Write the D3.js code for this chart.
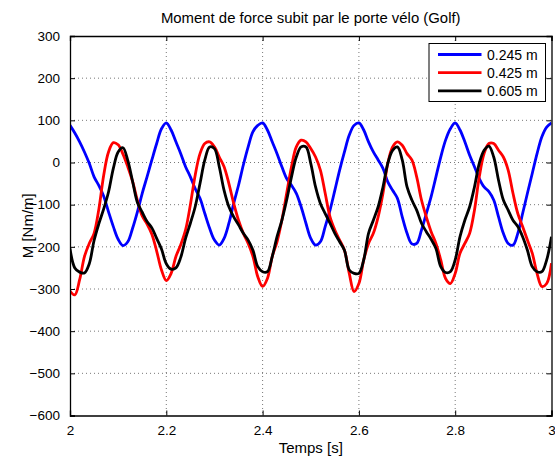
<!DOCTYPE html>
<html>
<head>
<meta charset="utf-8">
<script src="https://cdn.jsdelivr.net/npm/d3@7"></script>
<style>
  html, body { margin: 0; padding: 0; background: #fff; }
  svg { display: block; font-family: "Liberation Sans", Arial, sans-serif; }
</style>
</head>
<body>
<div id="chart"></div>
<script>
// sampled every 0.01 s from t = 2 s
var tStart = 2, tStep = 0.01;

var seriesNames = ["0.245 m", "0.425 m", "0.605 m"];
var seriesColors = ["#0000ff", "#ff0000", "#000000"];

var m245 = [
  88, 70, 49, 25, -2, -34, -55, -80, -117, -152, -182, -197, -188, -156, -117, -73, -34, 6, 45, 80,
  94, 77, 49, 21, -10, -34, -62, -85, -121, -156, -184, -196, -180, -144, -97, -54, -6, 37, 73, 88,
  94, 77, 49, 21, -10, -38, -54, -73, -105, -144, -180, -196, -188, -152, -113, -66, -18, 25, 65, 88,
  94, 77, 49, 25, 6, -14, -46, -66, -85, -129, -168, -193, -192, -160, -121, -81, -34, 13, 53, 80,
  94, 77, 49, 17, -10, -38, -58, -69, -89, -129, -168, -192, -196, -168, -121, -73, -26, 21, 61, 84,
  94
];
var m425 = [
  -305, -314, -278, -223, -192, -168, -110, -30, 25, 47, 42, 20, -10, -45, -90, -127, -146, -170, -210, -255,
  -280, -263, -223, -195, -160, -100, -30, 21, 45, 49, 37, 13, -10, -50, -97, -137, -168, -192, -223, -271,
  -294, -275, -223, -188, -137, -73, -10, 37, 53, 49, 33, 13, -18, -73, -129, -160, -184, -208, -263, -306,
  -287, -231, -192, -168, -129, -73, -2, 37, 49, 41, 21, 6, -34, -89, -129, -164, -192, -231, -275, -287,
  -263, -215, -192, -168, -113, -34, 21, 45, 45, 29, 13, -18, -73, -121, -152, -184, -215, -263, -294, -287,
  -239
];
var m605 = [
  -204, -250, -260, -262, -240, -185, -145, -110, -70, -14, 25, 35, 5, -45, -95, -118, -140, -155, -180, -205,
  -240, -253, -250, -225, -180, -144, -105, -50, 6, 37, 33, -10, -66, -105, -129, -148, -168, -184, -208, -247,
  -259, -259, -223, -176, -137, -89, -34, 13, 37, 37, -2, -58, -97, -121, -144, -168, -188, -208, -255, -263,
  -263, -231, -168, -137, -105, -58, -2, 29, 37, 6, -58, -89, -113, -144, -164, -182, -204, -247, -261, -259,
  -231, -176, -137, -105, -58, -2, 29, 39, 13, -42, -89, -113, -137, -152, -176, -208, -247, -259, -259, -231,
  -176
];

var xTicks = [2, 2.2, 2.4, 2.6, 2.8, 3];
var yTicks = [300, 200, 100, 0, -100, -200, -300, -400, -500, -600];

var W = 555, H = 458;
var margin = { left: 70, right: 3.5, top: 36, bottom: 42.5 };
var pw = W - margin.left - margin.right;
var ph = H - margin.top - margin.bottom;

var svg = d3.select("#chart").append("svg")
  .attr("width", W).attr("height", H);

var x = d3.scaleLinear().domain([2, 3]).range([0, pw]);
var y = d3.scaleLinear().domain([-600, 300]).range([ph, 0]);

var g = svg.append("g")
  .attr("transform", "translate(" + margin.left + "," + margin.top + ")");

g.append("rect").attr("width", pw).attr("height", ph).attr("fill", "#fff");

// dotted grid
g.append("g").selectAll("line").data(xTicks.slice(1, -1)).join("line")
  .attr("x1", d => x(d)).attr("x2", d => x(d))
  .attr("y1", 0).attr("y2", ph)
  .attr("stroke", "#555").attr("stroke-width", 0.8)
  .attr("stroke-dasharray", "1,3");
g.append("g").selectAll("line").data(yTicks.slice(1, -1)).join("line")
  .attr("y1", d => y(d)).attr("y2", d => y(d))
  .attr("x1", 0).attr("x2", pw)
  .attr("stroke", "#555").attr("stroke-width", 0.8)
  .attr("stroke-dasharray", "1,3");

g.append("clipPath").attr("id", "clip")
  .append("rect").attr("width", pw).attr("height", ph);

var series = [m245, m425, m605];
var line = d3.line()
  .x((d, i) => x(tStart + i * tStep))
  .y(d => y(d))
  .curve(d3.curveCatmullRom.alpha(0.5));

g.append("g").attr("clip-path", "url(#clip)")
  .selectAll("path").data(series).join("path")
  .attr("d", d => line(d))
  .attr("fill", "none")
  .attr("stroke", (d, i) => seriesColors[i])
  .attr("stroke-width", 2.8)
  .attr("stroke-linejoin", "round");

// axes, ticks inward on all four sides
var tickLen = 5;
var fmt = d3.format("");
g.append("g").attr("transform", "translate(0," + ph + ")")
  .call(d3.axisBottom(x).tickValues(xTicks).tickSize(-tickLen).tickPadding(10).tickFormat(fmt));
g.append("g")
  .call(d3.axisTop(x).tickValues(xTicks).tickSize(-tickLen).tickFormat(""));
g.append("g")
  .call(d3.axisLeft(y).tickValues(yTicks).tickSize(-tickLen).tickPadding(10)
    .tickFormat(d => d < 0 ? "\u2212" + Math.abs(d) : d));
g.append("g").attr("transform", "translate(" + pw + ",0)")
  .call(d3.axisRight(y).tickValues(yTicks).tickSize(-tickLen).tickFormat(""));

g.selectAll(".domain").attr("stroke", "#000").attr("stroke-width", 1.3);
g.selectAll(".tick line").attr("stroke", "#000");
g.selectAll(".tick text").attr("fill", "#000").style("font-size", "13.5px")
  .style("font-family", "'Liberation Sans', Arial, sans-serif");

// titles
svg.append("text").attr("x", margin.left + pw / 2).attr("y", 22.5)
  .attr("text-anchor", "middle").style("font-size", "14.9px")
  .text("Moment de force subit par le porte vélo (Golf)");
svg.append("text").attr("x", margin.left + pw / 2).attr("y", 452.5)
  .attr("text-anchor", "middle").style("font-size", "15px")
  .text("Temps [s]");
svg.append("text")
  .attr("transform", "translate(33," + (margin.top + ph / 2) + ") rotate(-90)")
  .attr("text-anchor", "middle").style("font-size", "15px")
  .text("M [Nm/m]");

// legend
var lg = svg.append("g").attr("transform", "translate(429,43.5)");
lg.append("rect").attr("width", 116.5).attr("height", 58)
  .attr("fill", "#fff").attr("stroke", "#000").attr("stroke-width", 1);
var rows = lg.selectAll("g.row").data(seriesNames).join("g")
  .attr("class", "row")
  .attr("transform", (d, i) => "translate(0," + (11 + i * 18.2) + ")");
rows.append("line").attr("x1", 9).attr("x2", 52.5)
  .attr("stroke", (d, i) => seriesColors[i]).attr("stroke-width", 2.8);
rows.append("text").attr("x", 58).attr("dy", "0.36em")
  .style("font-size", "14px").text(d => d);
</script>
</body>
</html>
